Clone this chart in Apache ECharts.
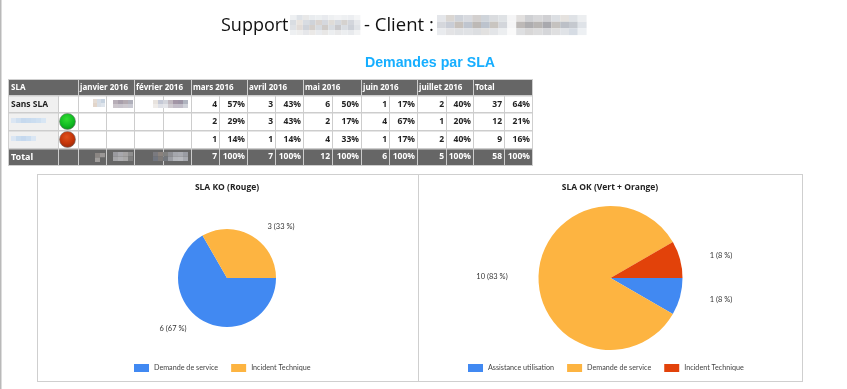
<!DOCTYPE html>
<html><head><meta charset="utf-8">
<script src="https://cdn.jsdelivr.net/npm/echarts@6/dist/echarts.min.js"></script>
<style>html,body{margin:0;padding:0;background:#fff}#c{width:847px;height:389px}</style></head>
<body><div id="c"></div>
<script>
const headerLabels = ['SLA','','janvier 2016','février 2016','mars 2016','avril 2016','mai 2016','juin 2016','juillet 2016','Total'];
const rowNames = ['Sans SLA','','','Total'];
const rowSansSla = ['','','','','4','57%','3','43%','6','50%','1','17%','2','40%','37','64%'];
const rowVert =    ['','','','','2','29%','3','43%','2','17%','4','67%','1','20%','12','21%'];
const rowRouge =   ['','','','','1','14%','1','14%','4','33%','1','17%','2','40%','9','16%'];
const rowTotal =   ['','','','','7','100%','7','100%','12','100%','6','100%','5','100%','58','100%'];
const koNames = ['Demande de service','Incident Technique'];
const koValues = [6,3];
const okNames = ['Assistance utilisation','Demande de service','Incident Technique'];
const okValues = [1,10,1];

const BLUE='#4189f2', ORANGE='#fdb441', RED='#e2420a';
const colX=[9,58,78,106,134,163,191,219,247,275,303,332,361,389,417,446,473,504,532];
const rowY=[80,96,113,131,149,165];
const g=[];
const rect=(x,y,w,h,fill,z)=>g.push({type:'rect',silent:true,z:z||1,shape:{x,y,width:w,height:h},style:{fill}});
const text=(x,y,t,o)=>g.push({type:'text',silent:true,z:5,x,y,style:Object.assign({text:t,fontFamily:'"Noto Sans"',fontSize:8.5,fontWeight:'bold',fill:'#222',textAlign:'left',textVerticalAlign:'middle'},o||{})});
const tiles=(x,y,w,h,cols)=>cols.forEach((row,j)=>row.forEach((c,i)=>{if(c)rect(x+i*w,y+j*h,w,h,c,3);}));

// page edge
rect(0,0,1.5,389,'#b9b9b9');
// titles
text(221,26,'Support',{fontFamily:'"Open Sans"',fontSize:18,fontWeight:'normal',fill:'#111'});
tiles(290,15,6.4,5,[
 ['#eef0f2','#dfe3e8','#e8e8e8','#e9ecef','#eceff1','#e8eaee','#eef0f2','#f2f3f5','#eef0f2','#eceef1','#f4f5f6'],
 ['#d9dde2','#e9e4df','#d8dce2','#cfd3d9','#d9d3cf','#d5d8de','#dfdcd8','#d5d9df','#d5d2cf','#d3d6dc','#e6e8eb'],
 ['#dfe2e6','#e2dcd8','#cfd3da','#d4cfcb','#d7dbe0','#cfcbc8','#d8dce1','#c9c9cc','#d9dde2','#cdd1d8','#e0e3e7'],
 ['#eef0f2','#eeeeee','#e6e7ea','#ebe9e7','#e9ebee','#e8e7e6','#eceef0','#e9e9ea','#eceef0','#e8eaed','#f2f3f4']
]);
text(364,26,'- Client :',{fontFamily:'"Open Sans"',fontSize:18.5,fontWeight:'normal',fill:'#111'});
tiles(437,15,8.8,6.7,[
 ['#e4e6ea','#dad6d2','#cfd3da','#d8dadf','#d3d0cf','#cfd4da','#dadcdf','#dfe2e5','#f5f5f6','#e2e0df','#cfd0d3','#d8d8da','#d0d0d3','#dcdfe3','#e5e2df','#dfe2e6','#eceef0'],
 ['#d5d7dc','#c9cdd6','#c7c1bc','#bfc5cf','#bdb9b6','#bcc3cd','#c9c5c0','#d3d6db','#f5f5f6','#bdb9b7','#aeadaf','#b8b5b3','#a9a9ae','#c5c2bf','#bcc0c7','#c5c9cf','#dfe3e8'],
 ['#e9ebee','#e3e3e5','#dfe1e4','#e0e2e5','#dcdee1','#e2e1e0','#e3e5e8','#eceef0','#fafafa','#dedfe1','#d8d7d7','#dcdcdd','#d5d6d9','#dfdfe0','#e0e3e7','#d6dce4','#edf0f3']
]);
text(430,63,'Demandes par SLA',{fontFamily:'"Liberation Sans"',fontSize:14.2,fill:'#16aeff',textAlign:'center'});

// table backgrounds
rect(8,79,525,87,'#cfcfcf');
rect(9,80,523,85,'#fff');
rect(9,80,523,16,'#666');
rect(9,149,523,16,'#666');
rect(9,96,49,53,'#f0f0f0');
// grid lines
const lineCol='#cdcdcd';
rowY.slice(1,5).forEach(y=>rect(8,y-1,525,1.4,lineCol,2));
colX.forEach((x,i)=>{
  if(i===0||i===colX.length-1)return;
  const month=i>=2&&(i-2)%2===0;
  rect(x,month?80:96,1,month?85:69,lineCol,2);
});
// header
const headX=[colX[0],colX[1],colX[2],colX[4],colX[6],colX[8],colX[10],colX[12],colX[14],colX[16]];
headerLabels.forEach((t,i)=>{if(t)text(headX[i]+2,88,t,{fill:'#fff',fontSize:8});});
// body
const rows=[rowSansSla,rowVert,rowRouge,rowTotal];
rows.forEach((r,j)=>{
  const y=(rowY[j+1]+rowY[j+2])/2, c=j===3?'#fff':'#222';
  if(rowNames[j])text(colX[0]+2,y,rowNames[j],{fill:c,fontSize:j===3?9:8.5});
  r.forEach((t,k)=>{if(t)text(colX[k+3]-2,y,t,{fill:c,textAlign:'right',fontSize:8.5});});
});
// blurred row names
tiles(11,118,5,5,[['#dbe6f3','#cfdff0','#c6d9ee','#c8dbef','#cbddf0','#cfe0f1','#d8e6f4']]);
tiles(11,136,5,5,[['#dbe6f3','#c9dcef','#c5d8ee','#cbddf0','#dae6f3']]);
// blurred month cells
tiles(93,99,4,4,[['#e5dcd4','#d6dde6','#c7d3e0'],['#e2d5ca','#d9dfe6','#dfe5ec']]);
tiles(113,100,5,4,[['#b7aeb7','#a89fab','#b3aab1','#b0b0bb'],['#ccc6cc','#c8c4cc','#cdc9cf','#c9c9d2']]);
tiles(153,100,5,4,[['#e8e3de','#c5c9d6','#d3d5dc'],['#efece9','#dfe1e7','#e5e6ea']]);
tiles(168,100,5,4,[['#c0b8bf','#a396a6','#9d94a5','#b0b4bf'],['#cfcbd0','#c3bdc8','#c1bdc8','#cfd1d8']]);
tiles(95,153,5,4.5,[['#8b8683','#9a9796'],['#a09d9b','#666']]);
tiles(113,152,5,4.5,[['#9a9a9f','#a8a8ad','#a5a3a3','#8e8e8e'],['#a5a5a8','#aeaeb1','#a9a8a8','#808080']]);
tiles(153,152,5,4.5,[['#7a7a7f','#8a827d','#80807f'],['#70757f','#7e7a78','#72767c']]);
tiles(168,152,5,4.5,[['#8f9095','#a5a7ad','#a9abb1','#9a9ca3'],['#9b9da3','#b4b6bb','#b7b9be','#a7a9af']]);
// status lights
const light=(cy,a,b,d)=>g.push({type:'circle',silent:true,z:6,shape:{cx:67.5,cy,r:8},style:{stroke:'#777',lineWidth:.6,fill:{type:'radial',x:.45,y:.35,r:.7,colorStops:[{offset:0,color:a},{offset:.6,color:b},{offset:1,color:d}]}}});
light(121.5,'#33dd33','#10bb22','#0a8a18');
light(139.5,'#e0501c','#c23308','#8a2a10');
// pie panels
rect(37,174,766,208,'#cfcfcf');
rect(38,175,380,206,'#fff');
rect(419,175,383,206,'#fff');

const pct=(p,vals)=>p.value+' ('+Math.round(p.value/vals.reduce((a,b)=>a+b,0)*100)+' %)';
const koLabelAt=[[173,329],[281,227]];
const okLabelAt=[[721,300],[492,277],[721,256]];
const pieFont='Lato';
const pie=(name,names,vals,center,radius,colors,at)=>({
  type:'pie',name,center,radius,startAngle:0,clockwise:true,animation:false,silent:true,
  data:names.map((n,i)=>({name:n,value:vals[i],itemStyle:{color:colors[i],borderWidth:0}})),
  label:{show:true,position:'outside',formatter:p=>pct(p,vals),fontFamily:pieFont,fontSize:7.5,color:'#333',align:'center'},
  labelLine:{show:false},
  labelLayout:p=>({x:at[p.dataIndex][0],y:at[p.dataIndex][1],align:'center',verticalAlign:'middle'})
});
const legendBase={itemWidth:15,itemHeight:8,icon:'rect',selectedMode:false,orient:'horizontal',
  textStyle:{fontFamily:pieFont,fontSize:7.2,color:'#444'},padding:0};
const legendData=(names,colors)=>names.map((n,i)=>({name:n,itemStyle:{color:colors[i]},icon:'rect'}));

const titleStyle={fontFamily:'"Open Sans"',fontSize:8.5,fontWeight:'bold',color:'#222'};
const chart=echarts.init(document.getElementById('c'),null,{renderer:'canvas'});
chart.setOption({
  animation:false,
  title:[
    {text:'SLA KO (Rouge)',left:227,top:183,textAlign:'center',textStyle:titleStyle,padding:0},
    {text:'SLA OK (Vert + Orange)',left:610,top:183,textAlign:'center',textStyle:titleStyle,padding:0}
  ],
  legend:[
    Object.assign({},legendBase,{data:legendData(koNames,[BLUE,ORANGE]),left:134,top:364,itemGap:13}),
    Object.assign({},legendBase,{data:legendData(okNames,[BLUE,ORANGE,RED]),left:468,top:364,itemGap:13})
  ],
  series:[
    pie('SLA KO (Rouge)',koNames,koValues,[227,278],49,[BLUE,ORANGE],koLabelAt),
    pie('SLA OK (Vert + Orange)',okNames,okValues,[610.5,278],72,[BLUE,ORANGE,RED],okLabelAt)
  ],
  graphic:{elements:g}
});
</script></body></html>
